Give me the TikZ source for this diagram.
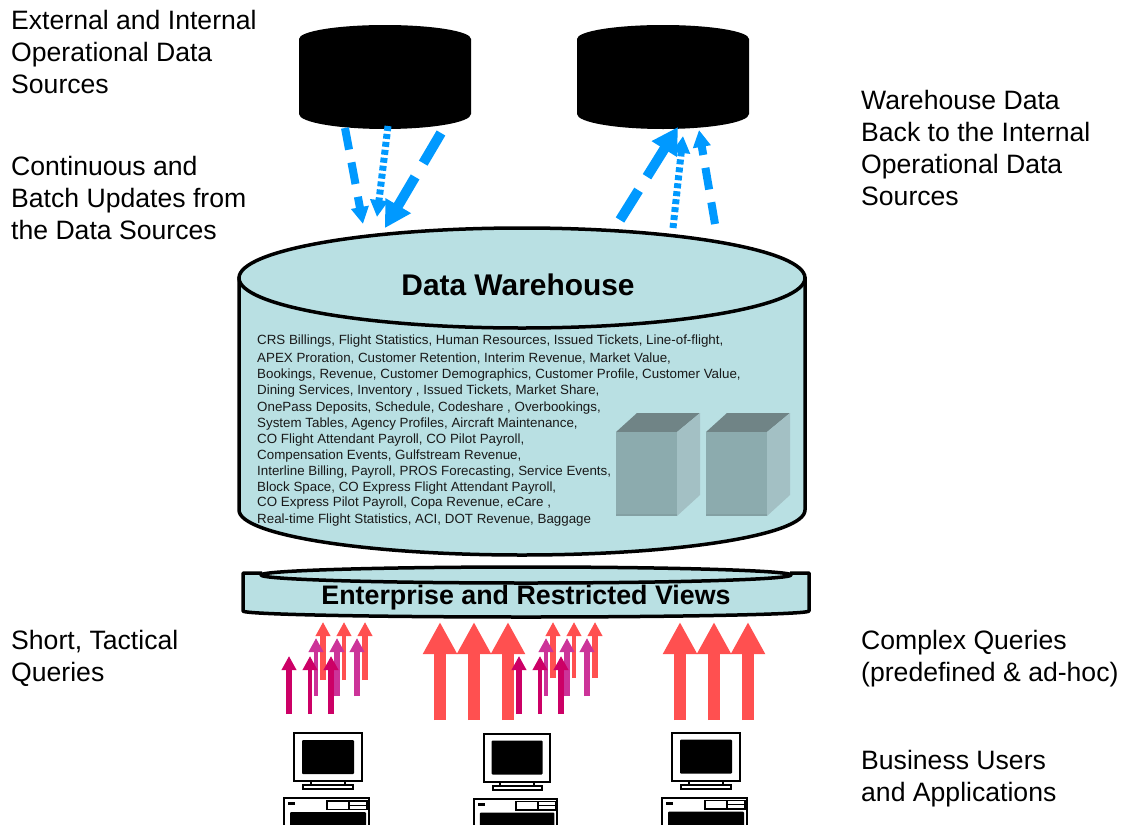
\documentclass[tikz,border=0pt]{standalone}
\usepackage{fontspec}
\setmainfont{Liberation Sans}
\usetikzlibrary{arrows.meta}
\definecolor{dwfill}{HTML}{B9E0E3}
\definecolor{flow}{HTML}{0099FF}
\definecolor{coral}{HTML}{FF5050}
\definecolor{magent}{HTML}{CC0066}
\definecolor{purp}{HTML}{CC3399}
\definecolor{boxfront}{HTML}{8CABAE}
\definecolor{boxedge}{HTML}{83A0A3}
\definecolor{boxtop}{HTML}{708486}
\definecolor{boxside}{HTML}{A3C0C4}
\tikzset{
  label text/.style={anchor=north west,align=left,inner sep=0pt,font=\fontsize{26.6}{32}\selectfont,text=black},
  list text/.style={anchor=base west,inner sep=0pt,font=\fontsize{13.35}{14}\selectfont,text=black!90},
  title text/.style={anchor=base,inner sep=0pt,font=\bfseries\fontsize{29.9}{32}\selectfont},
  cyl/.style={draw=black,line width=3.5pt,fill=dwfill,line join=round},
  cylline/.style={draw=black,line width=3.5pt,line join=round},
  flowthin/.style={draw=flow,line width=8pt,dash pattern=on 22pt off 13pt,-{Triangle[length=17pt,width=17pt]}},
  flowdot/.style={draw=flow,line width=7pt,dash pattern=on 5pt off 3pt,-{Triangle[length=17pt,width=17pt]}},
  flowwide/.style={draw=flow,line width=10pt,dash pattern=on 35pt off 16pt,-{Triangle[length=26pt,width=28pt]}},
  uparrow/.style n args={4}{draw=#1,line width=#2pt,-{Triangle[length=#3pt,width=#4pt]}},
  pcline/.style={draw=black,line width=2pt,fill=white}
}
\newcommand{\uparr}[7]{% name, color, x, base, tip, shaft, head w/len
  \coordinate (#1b) at (#3,#4);
  \coordinate (#1t) at (#3,#5);
  \draw[uparrow={#2}{#6}{#7}{#7}] (#1b) -- (#1t);
}
\newcommand{\computer}[3]{% x, y, xscale
  \begin{scope}[shift={(#1,#2)},xscale=#3]
    \draw[pcline] (10,0) rectangle (78,48);
    \fill[black,rounded corners=1pt] (18,7) rectangle (70,41);
    \draw[pcline] (27,48) rectangle (61,52);
    \draw[pcline] (19,52) rectangle (69,56);
    \draw[pcline] (0,65) rectangle (85,95);
    \fill[black,rounded corners=1pt] (6,79) rectangle (82,95);
    \draw[draw=black,line width=1.6pt] (43,68) rectangle (65,76.5);
    \draw[draw=black,line width=1.6pt] (65,68) rectangle (83,76.5);
    \draw[black,line width=1pt] (65,72.2) -- (83,72.2);
    \fill[black] (4,69) rectangle (11,72);
  \end{scope}
}
\newcommand{\serverbox}[1]{%
  \begin{scope}[shift={(#1,0)}]
    \fill[boxtop] (616,432) -- (637,413) -- (700,413) -- (677,432) -- cycle;
    \fill[boxside] (677,432) -- (700,413) -- (700,495) -- (677,516) -- cycle;
    \fill[boxfront] (616,432) rectangle (677,516);
    \fill[boxedge] (616,514) rectangle (677,516);
  \end{scope}
}
\begin{document}
\begin{tikzpicture}[x=1pt,y=-1pt]
\useasboundingbox (0,0) rectangle (1125,825);
% source and target stores
\fill[black] (299,39) arc[start angle=180,end angle=360,x radius=86,y radius=14] -- (471,114)
  arc[start angle=0,end angle=180,x radius=86,y radius=15] -- cycle;
\fill[black] (577,39) arc[start angle=180,end angle=360,x radius=86,y radius=14] -- (749,114)
  arc[start angle=0,end angle=180,x radius=86,y radius=15] -- cycle;
\coordinate (s1) at (345,128); \coordinate (e1) at (363,224);
\coordinate (s2) at (388,126); \coordinate (e2) at (377,217);
\coordinate (s3) at (441,133); \coordinate (e3) at (385,228);
\coordinate (s4) at (620,220); \coordinate (e4) at (678,127);
\coordinate (s5) at (673,228); \coordinate (e5) at (683,136);
\coordinate (s6) at (715,224); \coordinate (e6) at (699,130);
% warehouse
\fill[dwfill] (239,277) -- (239,510) arc[start angle=180,end angle=0,x radius=283,y radius=45] -- (805,277) -- cycle;
\draw[cylline] (239,277) -- (239,510) arc[start angle=180,end angle=0,x radius=283,y radius=45] -- (805,277);
\draw[cyl] (522,278) ellipse[x radius=283,y radius=50];
\node[title text] (dw) at (518,295) {Data Warehouse};
\serverbox{0}\serverbox{90}
% flows
\draw[flowthin] (s1) -- (e1);
\draw[flowdot] (s2) -- (e2);
\draw[flowwide] (s3) -- (e3);
\draw[flowwide] (s4) -- (e4);
\draw[flowdot] (s5) -- (e5);
\draw[flowthin] (s6) -- (e6);
% warehouse text
\node[list text] (l1) at (257,344) {CRS Billings, Flight Statistics, Human Resources, Issued Tickets, Line-of-flight,};
\node[list text] (l2) at (257,362) {APEX Proration, Customer Retention, Interim Revenue, Market Value,};
\node[list text] (l3) at (257,378) {Bookings, Revenue, Customer Demographics, Customer Profile, Customer Value,};
\node[list text] (l4) at (257,394) {Dining Services, Inventory , Issued Tickets, Market Share,};
\node[list text] (l5) at (257,411) {OnePass Deposits, Schedule, Codeshare , Overbookings,};
\node[list text] (l6) at (257,427) {System Tables, Agency Profiles, Aircraft Maintenance,};
\node[list text] (l7) at (257,443) {CO Flight Attendant Payroll, CO Pilot Payroll,};
\node[list text] (l8) at (257,459) {Compensation Events, Gulfstream Revenue,};
\node[list text] (l9) at (257,475) {Interline Billing, Payroll, PROS Forecasting, Service Events,};
\node[list text] (l10) at (257,491) {Block Space, CO Express Flight Attendant Payroll,};
\node[list text] (l11) at (257,506) {CO Express Pilot Payroll, Copa Revenue, eCare ,};
\node[list text] (l12) at (257,523) {Real-time Flight Statistics, ACI, DOT Revenue, Baggage};
% views
\fill[dwfill] (243,573) -- (243,611) arc[start angle=180,end angle=0,x radius=283,y radius=6] -- (809,573) -- cycle;
\draw[cylline] (262,573) -- (243,573) -- (243,611) arc[start angle=180,end angle=0,x radius=283,y radius=6] -- (809,573) -- (790,573);
\draw[cyl] (526,575) ellipse[x radius=265,y radius=8];
\node[title text,font=\bfseries\fontsize{26.8}{30}\selectfont] (ev) at (526,604) {Enterprise and Restricted Views};
% large query arrows
\foreach \n/\x in {a/440,b/474,c/508,d/680,e/714,f/748}{
  \uparr{\n}{coral}{\x}{720}{622}{12}{32}
}
% tactical query arrows, two groups
\foreach \g/\dx/\cb in {p/0/680,q/230/678}{
  \foreach \n/\x/\w in {1/323/6,2/344/4,3/365/6}{
    \pgfmathsetmacro{\xx}{\x+\dx}
    \uparr{\g c\n}{coral}{\xx}{\cb}{622}{\w}{14}
  }
  \foreach \n/\x/\w in {1/316/4,2/337/6,3/357/6}{
    \pgfmathsetmacro{\xx}{\x+\dx}
    \uparr{\g p\n}{purp}{\xx}{696}{638}{\w}{14}
  }
  \foreach \n/\x/\w in {1/289/6,2/310/4,3/331/6}{
    \pgfmathsetmacro{\xx}{\x+\dx}
    \uparr{\g m\n}{magent}{\xx}{714}{656}{\w}{14}
  }
}
% computers
\computer{284}{733}{1}
\computer{474}{733.5}{0.98}
\computer{662}{732.5}{1}
% labels
\node[label text] (t1) at (11,10) {External and Internal\\Operational Data\\Sources};
\node[label text] (t2) at (11,156) {Continuous and\\Batch Updates from\\the Data Sources};
\node[label text] (t3) at (861,90) {Warehouse Data\\Back to the Internal\\Operational Data\\Sources};
\node[label text] (t4) at (11,630) {Short, Tactical\\Queries};
\node[label text] (t5) at (861,630) {Complex Queries\\(predefined \& ad-hoc)};
\node[label text] (t6) at (861,750) {Business Users\\and Applications};
\end{tikzpicture}
\end{document}
